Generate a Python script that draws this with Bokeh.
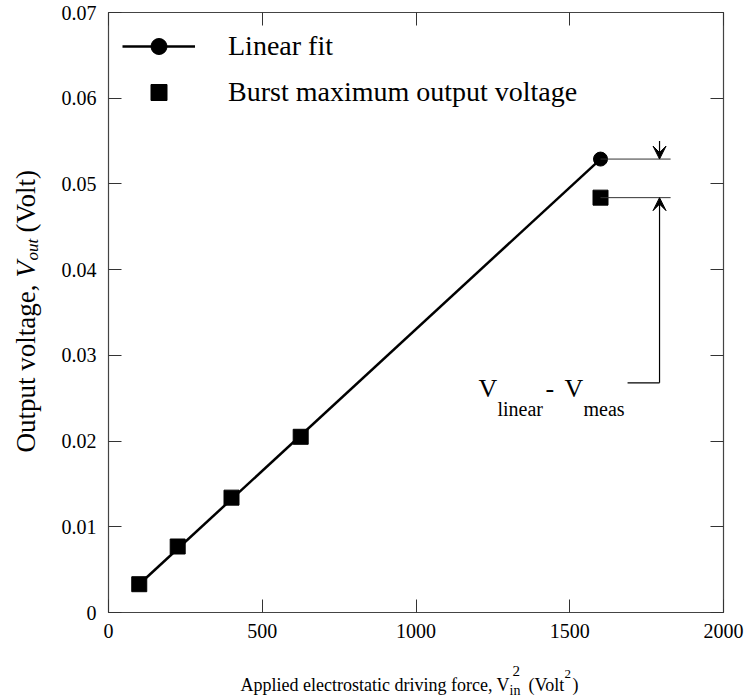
import math
from bokeh.plotting import figure
from bokeh.layouts import row, column
from bokeh.models import (Range1d, FixedTicker, LinearAxis, Label, Arrow, VeeHead,
                          Legend, LegendItem)
from bokeh.embed import file_html
from bokeh.resources import INLINE

# ---- data ----
vin_sq = [100, 225, 400, 625, 1600]            # Applied force V_in^2 (Volt^2)
v_burst = [0.0033, 0.0077, 0.0134, 0.0205, 0.0484]  # burst max output voltage (Volt)
fit_x = [100, 1600]
fit_y = [0.0033, 0.0529]
x_ticks = [0, 500, 1000, 1500, 2000]
x_tick_labels = ["0", "500", "1000", "1500", "2000"]
y_ticks = [0, 0.01, 0.02, 0.03, 0.04, 0.05, 0.06, 0.07]
y_tick_labels = ["0", "0.01", "0.02", "0.03", "0.04", "0.05", "0.06", "0.07"]

SERIF = "Liberation Serif"
W, H = 752, 700
YL_W = 52            # width of the y-label strip
XL_H = 50            # height of the x-label strip
FL, FB = 108, 612    # frame left / bottom in page pixels
MAIN_W, MAIN_H = W - YL_W, H - XL_H

p = figure(width=MAIN_W, height=MAIN_H, output_backend="svg", toolbar_location=None,
           x_range=Range1d(0, 2000), y_range=Range1d(0, 0.07),
           min_border_left=FL - YL_W, min_border_right=29, min_border_top=12,
           min_border_bottom=MAIN_H - FB)
p.grid.visible = False
p.outline_line_color = "#444444"
p.outline_line_width = 1.2
p.background_fill_color = "white"
p.border_fill_color = "white"

def style_axis(ax, ticks, labels, show):
    ax.ticker = FixedTicker(ticks=ticks)
    ax.minor_tick_line_color = None
    ax.major_tick_in = 13
    ax.major_tick_out = 0
    ax.major_tick_line_color = "#333333"
    ax.major_tick_line_width = 1
    ax.axis_line_color = None
    ax.major_label_text_font = SERIF
    ax.major_label_text_color = "black"
    if show:
        ax.major_label_overrides = {t: l for t, l in zip(ticks, labels)}
        ax.major_label_text_font_size = "20px"
    else:
        ax.major_label_overrides = {t: "" for t in ticks}
        ax.major_label_standoff = 0

style_axis(p.xaxis[0], x_ticks, x_tick_labels, True)
style_axis(p.yaxis[0], y_ticks, y_tick_labels, True)
p.xaxis[0].major_label_standoff = 11
p.yaxis[0].major_label_standoff = 12

ra = LinearAxis()
style_axis(ra, y_ticks, y_tick_labels, False)
p.add_layout(ra, "right")
ta = LinearAxis()
style_axis(ta, x_ticks, x_tick_labels, False)
p.add_layout(ta, "above")

# ---- glyphs ----
fit_line = p.line(fit_x, fit_y, line_color="black", line_width=2.5)
fit_pt = p.scatter([fit_x[-1]], [fit_y[-1]], marker="circle", size=14,
                   fill_color="black", line_color="black")
sq = p.scatter(vin_sq, v_burst, marker="square", size=15,
               fill_color="black", line_color="black")

# ---- annotation bracket ----
x_last = vin_sq[-1]
x_arrow = x_last + 192
x_ext = x_last + 228
x_lab = x_last + 88
y_low = 0.0268
p.segment(x0=[x_last, x_last], y0=[fit_y[-1], v_burst[-1]],
          x1=[x_ext, x_ext], y1=[fit_y[-1], v_burst[-1]],
          line_color="#333333", line_width=1)
p.segment(x0=[x_lab], y0=[y_low], x1=[x_arrow], y1=[y_low],
          line_color="black", line_width=1.2)
p.add_layout(Arrow(end=VeeHead(size=13, fill_color="black", line_color="black"),
                   x_start=x_arrow, y_start=0.0550, x_end=x_arrow, y_end=fit_y[-1],
                   line_color="black", line_width=1.2))
p.add_layout(Arrow(end=VeeHead(size=13, fill_color="black", line_color="black"),
                   x_start=x_arrow, y_start=y_low, x_end=x_arrow, y_end=v_burst[-1],
                   line_color="black", line_width=1.2))

def mk(text, x, y, size, style="normal", angle=0.0):
    return Label(x=x, y=y, x_units="screen", y_units="screen",
                 text=text, text_font=SERIF, text_font_size=f"{size}px",
                 text_font_style=style, text_color="black", angle=angle,
                 text_align="left", text_baseline="alphabetic")

# V_linear - V_meas (page coords -> frame-relative screen coords)
def lab(text, cx, cy, size, style="normal"):
    p.add_layout(mk(text, cx - FL, FB - cy, size, style))

lab("V", 478, 388, 26)
lab("linear", 497, 408, 20)
lab("-", 545, 388, 26)
lab("V", 564, 388, 26)
lab("meas", 583, 408, 20)

# ---- legend ----
legend = Legend(items=[LegendItem(label="Linear fit", renderers=[fit_line, fit_pt]),
                       LegendItem(label="Burst maximum output voltage", renderers=[sq])],
                location="top_left", margin=14, padding=10,
                glyph_width=73, glyph_height=40, spacing=6, label_standoff=33,
                label_text_font=SERIF, label_text_font_size="28px", label_text_color="black",
                border_line_color=None, background_fill_alpha=0)
p.add_layout(legend)

# ---- y-axis label strip ----
yf = figure(width=YL_W, height=MAIN_H, output_backend="svg", toolbar_location=None,
            x_range=Range1d(0, YL_W), y_range=Range1d(0, MAIN_H),
            x_axis_location=None, y_axis_location=None, min_border=0)
yf.grid.visible = False
yf.outline_line_color = None
A = math.pi / 2
DX, DY = -8, 38
def ylab(text, cx, cy, size, style="normal"):
    yf.add_layout(mk(text, cx + DX, MAIN_H - (cy + DY), size, style, A))

ylab("Output voltage,", 33, 452, 27)
ylab("V", 33, 277, 27, "italic")
ylab("out", 40, 260, 17, "italic")
ylab("(Volt)", 33, 232, 27)

# ---- x-axis label strip ----
xf = figure(width=W, height=XL_H, output_backend="svg", toolbar_location=None,
            x_range=Range1d(0, W), y_range=Range1d(0, XL_H),
            x_axis_location=None, y_axis_location=None, min_border=0)
xf.grid.visible = False
xf.outline_line_color = None
def xlab(text, cx, cy, size, style="normal"):
    xf.add_layout(mk(text, cx, H - cy, size, style))

xlab("Applied electrostatic driving force, V", 240, 684, 18)
xlab("in", 509, 690, 14)
xlab("2", 512, 670, 15)
xlab("(Volt", 528, 684, 18)
xlab("2", 564, 673, 13)
xlab(")", 572, 684, 18)

layout = column(row(yf, p), xf)
open("out.html", "w").write(file_html(layout, INLINE))
